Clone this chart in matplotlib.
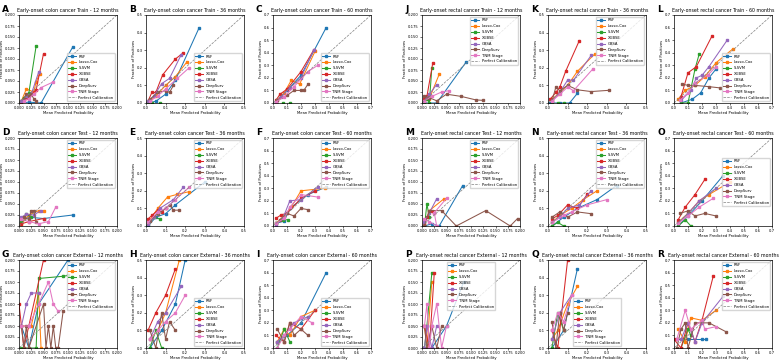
import numpy as np
import matplotlib
matplotlib.use("Agg")
import matplotlib.pyplot as plt

models = ["RSF", "Lasso-Cox", "S-SVM", "XGBSE", "GBSA", "DeepSurv", "TNM Stage"]
colors = ["#1f77b4", "#ff7f0e", "#2ca02c", "#d62728", "#9467bd", "#8c564b", "#e377c2"]

# ---- colon, train ----
colon_train_12 = {
    "RSF": ([0.005, 0.02, 0.045, 0.11], [0.0, 0.002, 0.0, 0.128]),
    "Lasso-Cox": ([0.005, 0.015, 0.03, 0.035, 0.042], [0.005, 0.032, 0.025, 0.048, 0.067]),
    "S-SVM": ([0.005, 0.01, 0.02, 0.035], [0.005, 0.012, 0.022, 0.13]),
    "XGBSE": ([0.005, 0.015, 0.025, 0.035, 0.05], [0.003, 0.012, 0.02, 0.03, 0.112]),
    "GBSA": ([0.005, 0.015, 0.025, 0.04], [0.005, 0.015, 0.02, 0.07]),
    "DeepSurv": ([0.01, 0.015, 0.02, 0.025, 0.03, 0.035], [0.01, 0.02, 0.015, 0.02, 0.01, 0.005]),
    "TNM Stage": ([0.01, 0.02, 0.03, 0.045, 0.07], [0.005, 0.01, 0.02, 0.035, 0.048]),
}
colon_train_36 = {
    "RSF": ([0.01, 0.05, 0.1, 0.15, 0.27], [0.0, 0.01, 0.05, 0.13, 0.425]),
    "Lasso-Cox": ([0.02, 0.05, 0.1, 0.15, 0.21], [0.01, 0.04, 0.1, 0.15, 0.235]),
    "S-SVM": ([0.01, 0.03, 0.07], [0.0, 0.0, 0.0]),
    "XGBSE": ([0.01, 0.03, 0.05, 0.085, 0.15, 0.19], [0.01, 0.06, 0.06, 0.16, 0.25, 0.285]),
    "GBSA": ([0.01, 0.04, 0.08, 0.12, 0.18], [0.01, 0.04, 0.11, 0.14, 0.275]),
    "DeepSurv": ([0.02, 0.06, 0.1, 0.12, 0.14], [0.02, 0.06, 0.07, 0.06, 0.1]),
    "TNM Stage": ([0.02, 0.06, 0.1, 0.16, 0.22], [0.01, 0.04, 0.08, 0.14, 0.2]),
}
colon_train_60 = {
    "RSF": ([0.02, 0.1, 0.2, 0.38], [0.0, 0.1, 0.22, 0.6]),
    "Lasso-Cox": ([0.03, 0.08, 0.13, 0.19, 0.3], [0.02, 0.08, 0.18, 0.15, 0.41]),
    "S-SVM": ([0.02, 0.07, 0.12], [0.0, 0.0, 0.0]),
    "XGBSE": ([0.02, 0.05, 0.1, 0.2, 0.29], [0.02, 0.07, 0.11, 0.25, 0.42]),
    "GBSA": ([0.02, 0.06, 0.12, 0.2, 0.29], [0.01, 0.05, 0.12, 0.2, 0.42]),
    "DeepSurv": ([0.03, 0.1, 0.15, 0.2, 0.22, 0.25], [0.02, 0.06, 0.1, 0.1, 0.1, 0.15]),
    "TNM Stage": ([0.02, 0.08, 0.15, 0.25, 0.32], [0.01, 0.05, 0.13, 0.25, 0.3]),
}
# ---- colon, test ----
colon_test_12 = {
    "RSF": ([0.005, 0.02, 0.05, 0.11], [0.01, 0.02, 0.017, 0.025]),
    "Lasso-Cox": ([0.005, 0.02, 0.04, 0.052], [0.005, 0.025, 0.035, 0.035]),
    "S-SVM": ([0.005, 0.015, 0.025], [0.01, 0.027, 0.02]),
    "XGBSE": ([0.005, 0.02, 0.05], [0.005, 0.01, 0.017]),
    "GBSA": ([0.005, 0.015, 0.03, 0.045], [0.02, 0.027, 0.025, 0.035]),
    "DeepSurv": ([0.01, 0.02, 0.025, 0.03, 0.035], [0.02, 0.015, 0.035, 0.035, 0.01]),
    "TNM Stage": ([0.005, 0.02, 0.04, 0.06, 0.075], [0.015, 0.01, 0.005, 0.01, 0.043]),
}
colon_test_36 = {
    "RSF": ([0.01, 0.05, 0.1, 0.15, 0.3], [0.0, 0.05, 0.07, 0.12, 0.25]),
    "Lasso-Cox": ([0.01, 0.06, 0.11, 0.16, 0.22], [0.02, 0.1, 0.165, 0.18, 0.195]),
    "S-SVM": ([0.01, 0.04, 0.07], [0.01, 0.05, 0.04]),
    "XGBSE": ([0.01, 0.03, 0.06, 0.08, 0.1], [0.04, 0.06, 0.09, 0.08, 0.1]),
    "GBSA": ([0.01, 0.04, 0.07, 0.14, 0.19], [0.01, 0.05, 0.1, 0.15, 0.22]),
    "DeepSurv": ([0.02, 0.06, 0.1, 0.12, 0.14, 0.17], [0.03, 0.07, 0.1, 0.12, 0.09, 0.09]),
    "TNM Stage": ([0.01, 0.06, 0.1, 0.15, 0.22], [0.02, 0.08, 0.1, 0.15, 0.22]),
}
colon_test_60 = {
    "RSF": ([0.02, 0.08, 0.12, 0.25, 0.38], [0.02, 0.04, 0.14, 0.25, 0.31]),
    "Lasso-Cox": ([0.02, 0.08, 0.13, 0.2, 0.37], [0.02, 0.08, 0.15, 0.28, 0.3]),
    "S-SVM": ([0.02, 0.07, 0.11], [0.02, 0.05, 0.05]),
    "XGBSE": ([0.02, 0.06, 0.1, 0.2, 0.3], [0.06, 0.09, 0.1, 0.22, 0.28]),
    "GBSA": ([0.02, 0.07, 0.12, 0.2, 0.32], [0.01, 0.06, 0.2, 0.21, 0.31]),
    "DeepSurv": ([0.05, 0.1, 0.15, 0.2, 0.25], [0.05, 0.1, 0.08, 0.14, 0.13]),
    "TNM Stage": ([0.02, 0.08, 0.12, 0.2, 0.32], [0.02, 0.06, 0.15, 0.25, 0.23]),
}
# ---- colon, external ----
colon_ext_12 = {
    "RSF": ([0.005, 0.02, 0.04, 0.1], [0.05, 0.0, 0.1, 0.2]),
    "Lasso-Cox": ([0.005, 0.025, 0.04, 0.045], [0.05, 0.05, 0.125, 0.0]),
    "S-SVM": ([0.005, 0.035, 0.04, 0.09, 0.1], [0.0, 0.0, 0.158, 0.163, 0.165]),
    "XGBSE": ([0.0, 0.01, 0.02, 0.05], [0.1, 0.0, 0.05, 0.2]),
    "GBSA": ([0.005, 0.015, 0.025, 0.04], [0.05, 0.1, 0.125, 0.125]),
    "DeepSurv": ([0.005, 0.01, 0.015, 0.02, 0.05, 0.055, 0.06, 0.065, 0.07, 0.075, 0.08, 0.09],
                 [0.05, 0.0, 0.05, 0.0, 0.1, 0.0, 0.05, 0.0, 0.05, 0.0, 0.0, 0.083]),
    "TNM Stage": ([0.005, 0.02, 0.04, 0.06, 0.07, 0.08], [0.05, 0.05, 0.1, 0.15, 0.1, 0.083]),
}
colon_ext_36 = {
    "RSF": ([0.02, 0.08, 0.15, 0.2], [0.0, 0.1, 0.25, 0.5]),
    "Lasso-Cox": ([0.02, 0.06, 0.1, 0.17], [0.05, 0.1, 0.2, 0.5]),
    "S-SVM": ([0.02, 0.05, 0.08], [0.0, 0.1, 0.0]),
    "XGBSE": ([0.01, 0.05, 0.1, 0.15], [0.1, 0.2, 0.3, 0.45]),
    "GBSA": ([0.02, 0.06, 0.1, 0.18], [0.05, 0.15, 0.2, 0.35]),
    "DeepSurv": ([0.02, 0.05, 0.08, 0.1, 0.12, 0.15], [0.1, 0.0, 0.2, 0.05, 0.15, 0.1]),
    "TNM Stage": ([0.02, 0.06, 0.1, 0.15, 0.2], [0.05, 0.1, 0.15, 0.2, 0.3]),
}
colon_ext_60 = {
    "RSF": ([0.03, 0.1, 0.2, 0.38], [0.05, 0.1, 0.2, 0.6]),
    "Lasso-Cox": ([0.03, 0.08, 0.12, 0.2, 0.3], [0.05, 0.15, 0.1, 0.25, 0.3]),
    "S-SVM": ([0.03, 0.08, 0.12], [0.0, 0.15, 0.05]),
    "XGBSE": ([0.02, 0.08, 0.12, 0.2, 0.3], [0.1, 0.05, 0.2, 0.15, 0.3]),
    "GBSA": ([0.03, 0.08, 0.15, 0.25], [0.05, 0.1, 0.2, 0.25]),
    "DeepSurv": ([0.03, 0.08, 0.12, 0.15, 0.2, 0.25], [0.15, 0.05, 0.2, 0.1, 0.15, 0.1]),
    "TNM Stage": ([0.03, 0.08, 0.12, 0.2, 0.28], [0.0, 0.1, 0.15, 0.25, 0.2]),
}
# ---- rectal, train ----
rectal_train_12 = {
    "RSF": ([0.005, 0.03, 0.09], [0.0, 0.0, 0.093]),
    "Lasso-Cox": ([0.005, 0.015, 0.035], [0.005, 0.01, 0.065]),
    "S-SVM": ([0.005, 0.01, 0.015, 0.02], [0.0, 0.01, 0.0, 0.08]),
    "XGBSE": ([0.005, 0.01, 0.022], [0.01, 0.015, 0.091]),
    "GBSA": ([0.005, 0.015, 0.03], [0.005, 0.02, 0.042]),
    "DeepSurv": ([0.005, 0.015, 0.03, 0.05, 0.08, 0.11, 0.125], [0.015, 0.012, 0.005, 0.02, 0.015, 0.007, 0.006]),
    "TNM Stage": ([0.005, 0.02, 0.04, 0.055], [0.005, 0.015, 0.025, 0.028]),
}
rectal_train_36 = {
    "RSF": ([0.01, 0.06, 0.11, 0.15], [0.0, 0.0, 0.0, 0.055]),
    "Lasso-Cox": ([0.02, 0.05, 0.1, 0.15, 0.24], [0.02, 0.05, 0.1, 0.18, 0.28]),
    "S-SVM": ([0.02, 0.05, 0.08], [0.0, 0.0, 0.0]),
    "XGBSE": ([0.01, 0.04, 0.06, 0.09, 0.16], [0.02, 0.06, 0.09, 0.18, 0.355]),
    "GBSA": ([0.02, 0.06, 0.1, 0.13, 0.22], [0.01, 0.06, 0.13, 0.13, 0.27]),
    "DeepSurv": ([0.02, 0.04, 0.06, 0.1, 0.15, 0.22, 0.31], [0.01, 0.09, 0.07, 0.1, 0.075, 0.065, 0.072]),
    "TNM Stage": ([0.02, 0.06, 0.1, 0.13, 0.23], [0.01, 0.05, 0.09, 0.07, 0.195]),
}
rectal_train_60 = {
    "RSF": ([0.05, 0.13, 0.19, 0.25, 0.3], [0.0, 0.03, 0.08, 0.2, 0.27]),
    "Lasso-Cox": ([0.03, 0.08, 0.15, 0.22, 0.3, 0.42], [0.03, 0.1, 0.14, 0.21, 0.32, 0.43]),
    "S-SVM": ([0.05, 0.1, 0.15, 0.18], [0.0, 0.0, 0.27, 0.39]),
    "XGBSE": ([0.05, 0.1, 0.16, 0.27], [0.05, 0.24, 0.29, 0.53]),
    "GBSA": ([0.05, 0.12, 0.16, 0.2, 0.25, 0.38], [0.02, 0.1, 0.2, 0.22, 0.29, 0.5]),
    "DeepSurv": ([0.06, 0.1, 0.15, 0.25, 0.33], [0.15, 0.14, 0.14, 0.13, 0.12]),
    "TNM Stage": ([0.04, 0.1, 0.15, 0.24, 0.3], [0.02, 0.08, 0.16, 0.22, 0.29]),
}
# ---- rectal, test ----
rectal_test_12 = {
    "RSF": ([0.005, 0.02, 0.035, 0.083], [0.0, 0.005, 0.0, 0.092]),
    "Lasso-Cox": ([0.005, 0.015, 0.045], [0.005, 0.035, 0.062]),
    "S-SVM": ([0.005, 0.01, 0.015], [0.0, 0.05, 0.02]),
    "XGBSE": ([0.005, 0.01, 0.02, 0.025], [0.005, 0.02, 0.035, 0.03]),
    "GBSA": ([0.005, 0.015, 0.03], [0.01, 0.03, 0.062]),
    "DeepSurv": ([0.005, 0.015, 0.04, 0.07, 0.13, 0.18, 0.195], [0.0, 0.035, 0.035, 0.0, 0.035, 0.0, 0.017]),
    "TNM Stage": ([0.005, 0.015, 0.03, 0.025, 0.05], [0.015, 0.01, 0.0, 0.03, 0.063]),
}
rectal_test_36 = {
    "RSF": ([0.02, 0.08, 0.15, 0.25, 0.35], [0.0, 0.05, 0.1, 0.15, 0.23]),
    "Lasso-Cox": ([0.02, 0.06, 0.12, 0.18, 0.25], [0.02, 0.06, 0.1, 0.15, 0.2]),
    "S-SVM": ([0.02, 0.05, 0.08], [0.0, 0.02, 0.0]),
    "XGBSE": ([0.02, 0.05, 0.1, 0.15, 0.2], [0.04, 0.06, 0.12, 0.1, 0.18]),
    "GBSA": ([0.02, 0.06, 0.1, 0.16, 0.22], [0.02, 0.05, 0.1, 0.12, 0.2]),
    "DeepSurv": ([0.02, 0.06, 0.1, 0.15, 0.22], [0.05, 0.08, 0.05, 0.08, 0.07]),
    "TNM Stage": ([0.02, 0.08, 0.12, 0.2, 0.3], [0.02, 0.06, 0.08, 0.12, 0.15]),
}
rectal_test_60 = {
    "RSF": ([0.03, 0.1, 0.2, 0.35], [0.0, 0.08, 0.2, 0.4]),
    "Lasso-Cox": ([0.03, 0.1, 0.18, 0.25, 0.4], [0.03, 0.1, 0.2, 0.25, 0.35]),
    "S-SVM": ([0.03, 0.08, 0.12], [0.0, 0.05, 0.0]),
    "XGBSE": ([0.03, 0.08, 0.15, 0.22], [0.05, 0.15, 0.25, 0.37]),
    "GBSA": ([0.03, 0.1, 0.18, 0.3], [0.02, 0.1, 0.2, 0.3]),
    "DeepSurv": ([0.04, 0.1, 0.15, 0.22, 0.3], [0.1, 0.12, 0.08, 0.1, 0.08]),
    "TNM Stage": ([0.03, 0.1, 0.18, 0.28], [0.02, 0.08, 0.15, 0.22]),
}
# ---- rectal, external ----
rectal_ext_12 = {
    "RSF": ([0.005, 0.02, 0.05, 0.085], [0.0, 0.0, 0.05, 0.15]),
    "Lasso-Cox": ([0.005, 0.01, 0.02], [0.05, 0.0, 0.15]),
    "S-SVM": ([0.005, 0.01, 0.02], [0.0, 0.05, 0.17]),
    "XGBSE": ([0.005, 0.015, 0.025], [0.05, 0.0, 0.17]),
    "GBSA": ([0.005, 0.01, 0.02, 0.03], [0.0, 0.05, 0.0, 0.05]),
    "DeepSurv": ([0.005, 0.01, 0.02, 0.03, 0.04], [0.05, 0.0, 0.05, 0.0, 0.05]),
    "TNM Stage": ([0.005, 0.01, 0.015, 0.02, 0.03, 0.04, 0.05], [0.05, 0.1, 0.0, 0.05, 0.1, 0.0, 0.05]),
}
rectal_ext_36 = {
    "RSF": ([0.02, 0.08, 0.15], [0.0, 0.1, 0.45]),
    "Lasso-Cox": ([0.02, 0.05, 0.1, 0.15], [0.05, 0.1, 0.25, 0.35]),
    "S-SVM": ([0.02, 0.05, 0.08], [0.0, 0.2, 0.1]),
    "XGBSE": ([0.02, 0.05, 0.1], [0.1, 0.0, 0.5]),
    "GBSA": ([0.02, 0.06, 0.12], [0.05, 0.2, 0.3]),
    "DeepSurv": ([0.02, 0.04, 0.06, 0.08, 0.1], [0.15, 0.0, 0.2, 0.1, 0.2]),
    "TNM Stage": ([0.02, 0.05, 0.08, 0.12], [0.1, 0.2, 0.15, 0.3]),
}
rectal_ext_60 = {
    "RSF": ([0.02, 0.1, 0.2, 0.23], [0.07, 0.07, 0.07, 0.07]),
    "Lasso-Cox": ([0.03, 0.08, 0.12, 0.2, 0.3], [0.15, 0.05, 0.24, 0.22, 0.3]),
    "S-SVM": ([0.05, 0.1, 0.12], [0.0, 0.15, 0.1]),
    "XGBSE": ([0.0, 0.05, 0.1, 0.15, 0.2, 0.28], [0.07, 0.0, 0.2, 0.05, 0.22, 0.57]),
    "GBSA": ([0.05, 0.1, 0.15, 0.2, 0.35], [0.07, 0.2, 0.05, 0.2, 0.41]),
    "DeepSurv": ([0.02, 0.05, 0.08, 0.1, 0.15, 0.25, 0.37], [0.0, 0.15, 0.2, 0.0, 0.2, 0.2, 0.13]),
    "TNM Stage": ([0.02, 0.08, 0.12, 0.2, 0.22, 0.3], [0.07, 0.3, 0.15, 0.22, 0.15, 0.17]),
}

# panel: (letter, data, cancer, cohort, months, limit, legend loc)
panels = [
    ("A", colon_train_12, "colon", "Train", 12, 0.2, "lower right"),
    ("B", colon_train_36, "colon", "Train", 36, 0.5, "lower right"),
    ("C", colon_train_60, "colon", "Train", 60, 0.7, "lower right"),
    ("J", rectal_train_12, "rectal", "Train", 12, 0.2, "upper right"),
    ("K", rectal_train_36, "rectal", "Train", 36, 0.5, "upper right"),
    ("L", rectal_train_60, "rectal", "Train", 60, 0.7, "lower right"),
    ("D", colon_test_12, "colon", "Test", 12, 0.2, "upper right"),
    ("E", colon_test_36, "colon", "Test", 36, 0.5, "upper right"),
    ("F", colon_test_60, "colon", "Test", 60, 0.7, "upper right"),
    ("M", rectal_test_12, "rectal", "Test", 12, 0.2, "upper right"),
    ("N", rectal_test_36, "rectal", "Test", 36, 0.5, "upper right"),
    ("O", rectal_test_60, "rectal", "Test", 60, 0.7, "center right"),
    ("G", colon_ext_12, "colon", "External", 12, 0.2, "upper right"),
    ("H", colon_ext_36, "colon", "External", 36, 0.5, "lower right"),
    ("I", colon_ext_60, "colon", "External", 60, 0.7, "lower right"),
    ("P", rectal_ext_12, "rectal", "External", 12, 0.2, "upper center"),
    ("Q", rectal_ext_36, "rectal", "External", 36, 0.5, "lower center"),
    ("R", rectal_ext_60, "rectal", "External", 60, 0.7, "upper right"),
]

W, H = 779, 362
col_left = [19, 146, 273, 422, 548, 674]
row_top = [15, 138, 260]
ax_w, ax_h = 98, 88
fs = 2.7

fig = plt.figure(figsize=(W / 100, H / 100), dpi=100)

for i, (letter, data, cancer, cohort, months, lim, loc) in enumerate(panels):
    r, c = divmod(i, 6)
    x0, y0 = col_left[c], row_top[r]
    ax = fig.add_axes([x0 / W, 1 - (y0 + ax_h) / H, ax_w / W, ax_h / H])
    for m, col in zip(models, colors):
        xs, ys = data[m]
        ax.plot(xs, ys, marker="s", ms=1.8, lw=0.75, color=col, label=m)
    ax.plot([0, lim], [0, lim], "--", color="gray", lw=0.5, label="Perfect Calibration")
    ax.set_xlim(0, lim)
    ax.set_ylim(0, lim)
    if lim == 0.2:
        ticks = np.linspace(0, 0.2, 9)
        fmt = "{:.3f}"
    else:
        ticks = np.arange(0, lim + 0.001, 0.1)
        fmt = "{:.1f}"
    ax.set_xticks(ticks)
    ax.set_yticks(ticks)
    ax.set_xticklabels([fmt.format(t) for t in ticks])
    ax.set_yticklabels([fmt.format(t) for t in ticks])
    ax.tick_params(labelsize=fs, length=1.2, width=0.4, pad=1)
    for s in ax.spines.values():
        s.set_linewidth(0.5)
    ax.set_title(f"Early-onset {cancer} cancer {cohort} - {months} months", fontsize=3.4, pad=2)
    ax.set_xlabel("Mean Predicted Probability", fontsize=fs, labelpad=1)
    ax.set_ylabel("Fraction of Positives", fontsize=fs, labelpad=1)
    ax.legend(loc=loc, fontsize=2.7, handlelength=2.0, borderpad=0.4,
              labelspacing=0.5, frameon=True, framealpha=0.8)
    fig.text((x0 - 17) / W, 1 - (y0 - 10) / H, letter, fontsize=6.5,
             fontweight="bold", va="top", ha="left")

fig.savefig("out.png", dpi=100)
